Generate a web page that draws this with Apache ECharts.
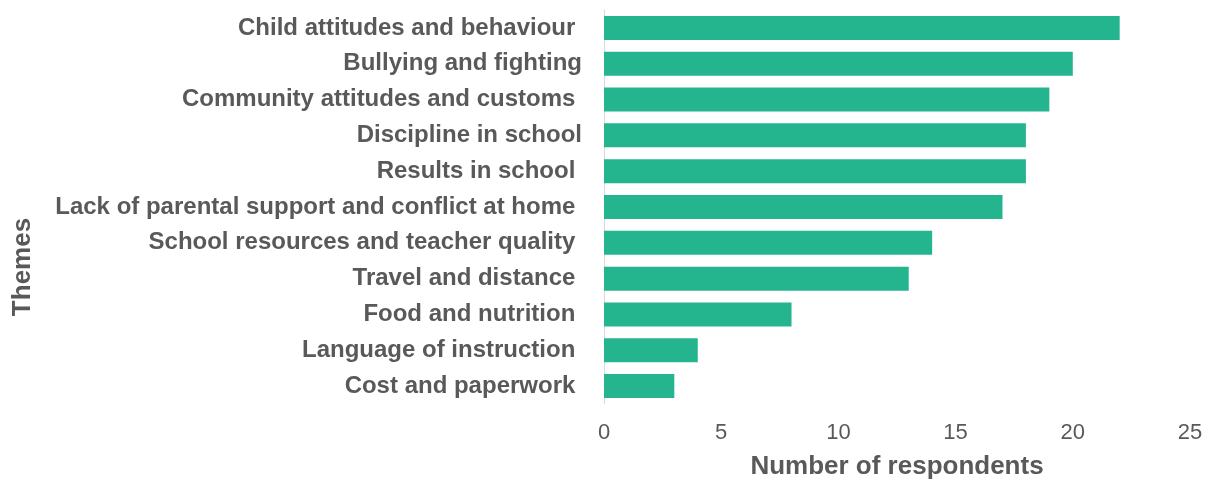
<!DOCTYPE html>
<html>
<head>
<meta charset="utf-8">
<script src="https://cdn.jsdelivr.net/npm/echarts@6/dist/echarts.min.js"></script>
<style>
  html, body { margin: 0; padding: 0; background: #ffffff; }
  #chart { width: 1207px; height: 485px; }
</style>
</head>
<body>
<div id="chart"></div>
<script>
// Themes raised by respondents, listed top to bottom
const themes = [
  'Child attitudes and behaviour ',
  'Bullying and fighting',
  'Community attitudes and customs ',
  'Discipline in school',
  'Results in school ',
  'Lack of parental support and conflict at home ',
  'School resources and teacher quality ',
  'Travel and distance ',
  'Food and nutrition ',
  'Language of instruction ',
  'Cost and paperwork '
];
const respondents = [22, 20, 19, 18, 18, 17, 14, 13, 8, 4, 3];
const xTicks = [0, 5, 10, 15, 20, 25];

const TEXT = '#595959';
const FONT = 'Arial, "Liberation Sans", sans-serif';

const chart = echarts.init(document.getElementById('chart'), null, { renderer: 'canvas' });
chart.setOption({
  animation: false,
  backgroundColor: '#ffffff',
  grid: { left: 604, right: 17, top: 10, bottom: 78, containLabel: false },
  xAxis: {
    type: 'value',
    min: xTicks[0],
    max: xTicks[xTicks.length - 1],
    interval: xTicks[1] - xTicks[0],
    axisLine: { show: false },
    axisTick: { show: false },
    splitLine: { show: false },
    axisLabel: { color: TEXT, fontFamily: FONT, fontSize: 22, margin: 18 },
    name: 'Number of respondents',
    nameLocation: 'middle',
    nameGap: 50,
    nameTextStyle: { color: TEXT, fontFamily: FONT, fontSize: 26, fontWeight: 'bold' }
  },
  yAxis: {
    type: 'category',
    inverse: true,
    data: themes,
    axisLine: { show: true, lineStyle: { color: '#d9d9d9', width: 1 } },
    axisTick: { show: false },
    axisLabel: { color: TEXT, fontFamily: FONT, fontSize: 24, fontWeight: 'bold', margin: 22 }
  },
  graphic: [{
    type: 'text',
    x: 23,
    y: 267,
    rotation: Math.PI / 2,
    style: {
      text: 'Themes',
      fill: TEXT,
      font: 'bold 26px ' + FONT,
      align: 'center',
      verticalAlign: 'middle'
    }
  }],
  series: [{
    type: 'bar',
    data: respondents,
    barWidth: '67%',
    itemStyle: { color: '#24b58f' }
  }]
});
</script>
</body>
</html>
